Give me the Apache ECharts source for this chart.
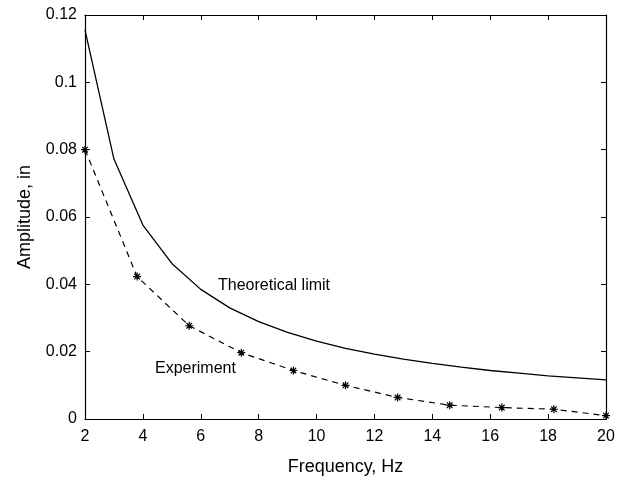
<!DOCTYPE html>
<html><head><meta charset="utf-8">
<script src="https://cdn.jsdelivr.net/npm/echarts@6/dist/echarts.min.js"></script>
<style>html,body{margin:0;padding:0;background:#fff}#c{width:630px;height:481px}</style>
</head><body><div id="c"></div>
<script>
const theoryFreq = [2,3,4,5,6,7,8,9,10,11,12,13,14,15,16,17,18,19,20];
const theoryAmp = [0.1155,0.0772,0.0576,0.0462,0.0385,0.0330,0.0289,0.0257,0.0231,0.0210,0.0193,0.0178,0.0165,0.0154,0.0144,0.0136,0.0128,0.0122,0.0116];
const expFreq = [2,3.8,5.6,7.4,9.2,11,12.8,14.6,16.4,18.2,20];
const expAmp = [0.0800,0.0423,0.0277,0.0197,0.0144,0.0100,0.0064,0.0041,0.0034,0.0029,0.0010];
const xTicks = [2,4,6,8,10,12,14,16,18,20];
const yTicks = ['0','0.02','0.04','0.06','0.08','0.1','0.12'];

const font = 'Liberation Sans, Arial, Helvetica, sans-serif';
const star = 'path://M5,0 L5,10 M0,5 L10,5 M1.5,1.5 L8.5,8.5 M8.5,1.5 L1.5,8.5';
const chart = echarts.init(document.getElementById('c'));
const axisCommon = {
  axisLine:{show:true,onZero:false,lineStyle:{color:'#000',width:1.2}},
  axisTick:{show:true,inside:true,length:5,lineStyle:{color:'#000',width:1}},
  splitLine:{show:false}
};
chart.setOption({
  animation:false,
  backgroundColor:'#fff',
  grid:{left:85,right:24,top:15,bottom:59},
  xAxis:[
    Object.assign({type:'value',min:2,max:20,interval:2,position:'bottom',
      name:'Frequency, Hz',nameLocation:'middle',nameGap:39,
      nameTextStyle:{fontFamily:font,fontSize:18,color:'#000'},
      axisLabel:{fontFamily:font,fontSize:16,color:'#000',margin:10,
        formatter:v=>xTicks.indexOf(v)>=0?String(v):''}},axisCommon),
    Object.assign({type:'value',min:2,max:20,interval:2,position:'top',axisLabel:{show:false}},axisCommon)
  ],
  yAxis:[
    Object.assign({type:'value',min:0,max:0.12,interval:0.02,position:'left',
      name:'Amplitude, in',nameLocation:'middle',nameGap:51,
      nameTextStyle:{fontFamily:font,fontSize:18,color:'#000'},
      axisLabel:{fontFamily:font,fontSize:16,color:'#000',margin:8,
        formatter:v=>yTicks[Math.round(v/0.02)]}},axisCommon),
    Object.assign({type:'value',min:0,max:0.12,interval:0.02,position:'right',axisLabel:{show:false}},axisCommon)
  ],
  series:[
    {type:'line',data:theoryFreq.map((f,i)=>[f,theoryAmp[i]]),showSymbol:false,
      lineStyle:{color:'#000',width:1.3},silent:true},
    {type:'line',data:expFreq.map((f,i)=>[f,expAmp[i]]),symbol:star,symbolSize:8,
      itemStyle:{color:'#000',borderColor:'#000',borderWidth:1.2},
      lineStyle:{color:'#000',width:1.2,type:[6,5]},silent:true}
  ],
  graphic:[
    {type:'text',left:218,top:278,style:{text:'Theoretical limit',font:'16px '+font,fill:'#000'}},
    {type:'text',left:155,top:361,style:{text:'Experiment',font:'16px '+font,fill:'#000'}}
  ]
});
</script></body></html>
